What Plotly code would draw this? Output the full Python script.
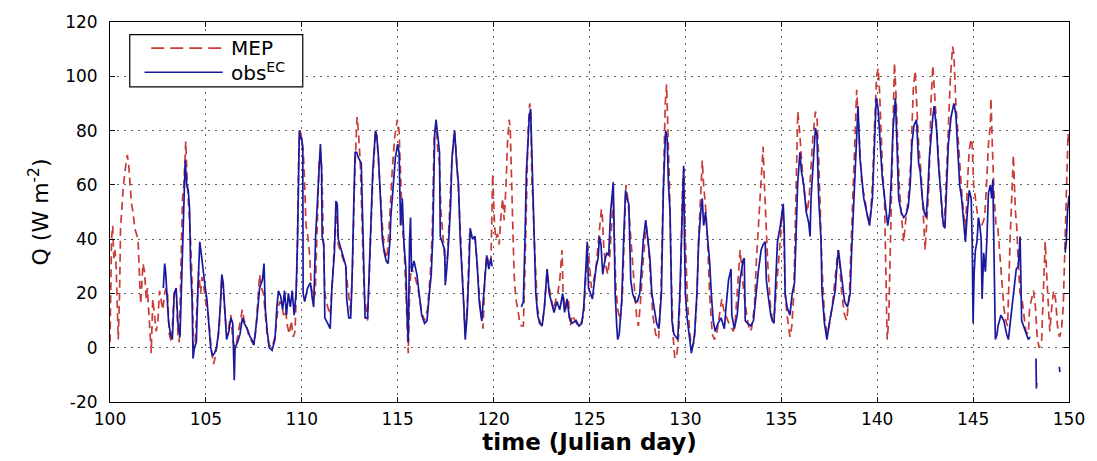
import plotly.graph_objects as go

# Sensible heat flux Q (W m^-2) against Julian day: MEP model vs eddy-covariance obs.
# Each entry is (Julian day, Q).
MEP_POINTS = [
    (100.0, 2), (100.08, 40), (100.14, 45), (100.2, 33), (100.26, 36), (100.32, 30),
    (100.43, 3), (100.5, 20), (100.55, 44), (100.69, 59), (100.8, 66), (100.9, 71),
    (100.97, 68), (101.03, 63), (101.12, 53), (101.2, 50), (101.29, 44), (101.46, 40),
    (101.55, 27), (101.6, 16), (101.72, 31), (101.8, 28), (101.89, 18), (101.95, 22),
    (102.05, 10), (102.15, -2), (102.23, 18), (102.33, 12), (102.41, 6), (102.5, 10),
    (102.58, 21), (102.65, 18), (102.75, 14), (102.85, 20), (102.92, 22), (103.0, 20),
    (103.09, 5), (103.2, 2), (103.26, 8), (103.35, 20), (103.44, 22), (103.55, 4),
    (103.61, 2), (103.7, 30), (103.78, 55), (103.85, 60), (103.95, 76), (104.02, 62),
    (104.12, 50), (104.2, 40), (104.3, 20),
    (104.35, 0), (104.45, 3), (104.55, 18), (104.62, 28), (104.72, 20), (104.8, 26),
    (104.9, 22), (105.0, 16), (105.1, 14), (105.2, 6), (105.3, -2), (105.4, -6),
    (105.5, -3), (105.6, 2), (105.7, 8), (105.83, 26), (105.92, 20), (106.0, 12),
    (106.1, 4), (106.2, 8), (106.3, 12), (106.4, 3), (106.5, 0), (106.6, 2),
    (106.75, 8), (106.9, 14), (107.0, 10), (107.12, 8), (107.25, 4), (107.4, 2),
    (107.5, 1), (107.6, 6), (107.7, 18), (107.8, 27), (107.9, 22), (108.0, 20),
    (108.1, 12), (108.2, 4), (108.3, 1), (108.45, 0), (108.6, 4), (108.75, 14),
    (108.85, 17), (108.95, 16), (109.05, 12), (109.15, 14), (109.25, 8), (109.35, 5),
    (109.45, 10), (109.55, 4), (109.65, 6), (109.75, 30), (109.85, 75), (109.92, 80),
    (110.0, 77), (110.08, 72), (110.15, 60), (110.22, 45), (110.3, 42), (110.4, 35),
    (110.5, 22), (110.6, 18), (110.7, 20), (110.8, 45), (110.9, 68), (110.97, 72),
    (111.05, 65), (111.12, 40), (111.2, 20), (111.35, 15), (111.48, 12), (111.6, 25),
    (111.72, 45), (111.8, 52), (111.9, 38), (112.0, 36), (112.15, 33), (112.28, 30),
    (112.4, 22), (112.55, 13), (112.65, 30), (112.75, 62), (112.88, 85), (112.95, 80),
    (113.05, 68), (113.15, 45), (113.25, 20), (113.43, 10), (113.55, 35), (113.7, 62),
    (113.85, 80), (113.92, 78), (114.0, 68), (114.1, 55), (114.2, 45), (114.3, 36),
    (114.45, 33), (114.6, 50), (114.72, 66), (114.85, 78), (114.98, 84), (115.07, 80),
    (115.16, 60), (115.25, 44), (115.33, 38), (115.42, 20), (115.55, -2), (115.62, 20),
    (115.7, 30), (115.8, 28), (115.95, 25), (116.1, 20), (116.25, 13), (116.4, 10),
    (116.55, 14), (116.7, 27), (116.8, 42), (116.9, 78), (117.0, 82), (117.1, 72),
    (117.18, 68), (117.25, 51), (117.35, 42), (117.48, 30), (117.6, 34), (117.72, 52),
    (117.82, 68), (117.95, 80), (118.05, 72), (118.15, 60), (118.25, 45), (118.4, 25),
    (118.52, 5), (118.62, 15), (118.75, 42), (118.9, 40), (119.03, 41), (119.15, 30),
    (119.3, 15), (119.45, 7), (119.55, 27), (119.65, 34), (119.8, 30), (119.86, 30),
    (119.95, 64), (120.05, 45), (120.12, 40), (120.21, 42), (120.29, 38), (120.38, 48),
    (120.47, 55), (120.55, 47), (120.65, 60), (120.72, 75), (120.81, 84), (120.87, 80),
    (120.92, 62), (121.0, 45), (121.07, 27), (121.16, 18), (121.24, 15), (121.35, 10),
    (121.45, 8), (121.55, 8), (121.64, 30), (121.72, 60), (121.8, 80), (121.88, 90),
    (121.93, 88), (122.0, 60), (122.05, 55), (122.12, 40), (122.19, 27), (122.28, 15),
    (122.4, 10), (122.53, 8), (122.65, 15), (122.79, 28), (122.88, 23), (123.0, 18),
    (123.14, 14), (123.25, 18), (123.35, 20), (123.45, 25), (123.57, 36), (123.62, 20),
    (123.75, 14), (123.9, 18), (124.0, 8), (124.1, 12), (124.25, 10), (124.4, 8),
    (124.55, 9), (124.7, 12), (124.8, 25), (124.9, 38), (124.95, 35), (125.1, 22),
    (125.2, 24), (125.35, 30), (125.5, 42), (125.62, 51), (125.66, 50), (125.75, 36),
    (125.86, 30), (125.95, 27), (126.05, 33), (126.15, 45), (126.24, 55), (126.3, 38),
    (126.38, 22), (126.47, 14), (126.6, 10), (126.72, 20), (126.8, 42), (126.9, 60),
    (127.0, 55), (127.1, 45), (127.2, 35), (127.3, 25), (127.45, 12), (127.55, 8),
    (127.65, 16), (127.8, 32), (127.95, 45), (128.05, 40), (128.15, 30), (128.3, 12),
    (128.45, 5), (128.6, 3), (128.72, 20), (128.85, 60), (128.95, 90), (129.02, 97),
    (129.1, 80), (129.17, 60), (129.25, 30), (129.35, 5), (129.45, -4), (129.55, -3),
    (129.65, 5), (129.75, 25), (129.85, 60), (129.92, 66), (130.0, 40), (130.1, 18),
    (130.2, 8), (130.31, 0), (130.45, 2), (130.6, 18), (130.7, 42), (130.8, 60),
    (130.88, 69), (130.95, 60), (131.05, 52), (131.15, 40), (131.26, 20), (131.4, 5),
    (131.52, 3), (131.65, 6), (131.78, 12), (131.9, 18), (132.0, 14), (132.1, 12),
    (132.21, 10), (132.35, 8), (132.5, 6), (132.6, 10), (132.72, 22), (132.85, 36),
    (132.95, 28), (133.05, 20), (133.2, 12), (133.35, 6), (133.45, 7), (133.6, 15),
    (133.7, 32), (133.84, 50), (133.95, 65), (134.05, 74), (134.12, 60), (134.2, 45),
    (134.3, 30), (134.45, 14), (134.55, 10), (134.65, 13), (134.8, 25), (134.95, 40),
    (135.05, 50), (135.12, 45), (135.2, 20), (135.3, 12), (135.45, 4), (135.55, 8),
    (135.65, 20), (135.75, 50), (135.86, 87), (135.95, 80), (136.05, 68), (136.15, 60),
    (136.25, 55), (136.35, 50), (136.45, 55), (136.55, 65), (136.65, 78), (136.78, 87),
    (136.86, 85), (136.95, 70), (137.05, 50), (137.12, 30), (137.25, 12), (137.38, 5),
    (137.5, 8), (137.65, 15), (137.8, 25), (137.95, 36), (138.05, 30), (138.15, 20),
    (138.3, 12), (138.41, 10), (138.55, 20), (138.68, 45), (138.8, 70), (138.93, 95),
    (139.0, 85), (139.1, 70), (139.2, 60), (139.35, 55), (139.5, 48), (139.62, 46),
    (139.75, 60), (139.88, 85), (139.97, 100), (140.05, 103), (140.12, 95), (140.2, 80),
    (140.28, 65), (140.38, 55), (140.45, 30), (140.52, 3), (140.6, 10), (140.68, 35),
    (140.75, 63), (140.85, 95), (140.9, 105), (140.97, 95), (141.05, 80), (141.15, 60),
    (141.25, 50), (141.38, 39), (141.5, 48), (141.62, 55), (141.75, 68), (141.88, 95),
    (141.98, 102), (142.07, 90), (142.16, 75), (142.28, 65), (142.4, 50), (142.5, 36),
    (142.6, 48), (142.7, 60), (142.8, 90), (142.9, 104), (142.98, 95), (143.1, 80),
    (143.2, 68), (143.3, 55), (143.4, 47), (143.5, 45), (143.6, 62), (143.7, 80),
    (143.82, 100), (143.93, 111), (144.0, 108), (144.1, 90), (144.2, 78), (144.3, 68),
    (144.4, 58), (144.5, 50), (144.6, 42), (144.7, 60), (144.8, 73), (144.9, 77),
    (144.95, 75), (145.03, 60), (145.12, 55), (145.21, 50), (145.3, 45), (145.4, 44),
    (145.5, 46), (145.6, 48), (145.7, 60), (145.8, 75), (145.9, 82), (145.93, 92),
    (146.0, 75), (146.1, 55), (146.2, 45), (146.28, 45), (146.41, 33), (146.5, 24),
    (146.6, 15), (146.7, 10), (146.8, 8), (146.93, 40), (147.02, 60), (147.1, 71),
    (147.2, 51), (147.28, 44), (147.36, 30), (147.45, 20), (147.55, 18), (147.65, 12),
    (147.75, 6), (147.88, 5), (147.95, 15), (148.05, 18), (148.15, 21), (148.25, 15),
    (148.35, 3), (148.45, 0), (148.57, 2), (148.66, 20), (148.76, 39), (148.85, 25),
    (148.93, 12), (149.0, 6), (149.1, 15), (149.2, 21), (149.3, 18), (149.4, 8),
    (149.5, 4), (149.6, 6), (149.7, 15), (149.8, 45), (149.88, 60), (149.95, 79),
    (150.0, 75),
]

# None marks a break in the observed record.
OBS_POINTS = [
    (102.78, 22), (102.85, 31), (102.9, 28), (102.95, 20), (103.05, 10), (103.15, 5),
    (103.25, 3), (103.35, 20), (103.45, 22), (103.55, 8), (103.65, 4), (103.75, 28),
    (103.85, 55), (103.92, 69), (104.0, 60), (104.08, 58), (104.15, 51), (104.2, 30),
    (104.28, 18), (104.33, -4), (104.4, 0), (104.5, 2), (104.6, 25), (104.68, 39),
    (104.75, 35), (104.82, 30), (104.9, 26), (104.97, 22), (105.05, 18), (105.15, 10),
    (105.25, 0), (105.35, -3), (105.45, -2), (105.55, 0), (105.65, 5), (105.75, 15),
    (105.83, 27), (105.9, 24), (106.0, 14), (106.08, 3), (106.2, 6), (106.3, 11),
    (106.4, 9), (106.48, -12), (106.52, 0), (106.65, 2), (106.78, 5), (106.9, 11),
    (107.0, 9), (107.15, 7), (107.3, 4), (107.4, 3), (107.5, 1), (107.65, 10),
    (107.8, 22), (107.95, 25), (108.03, 31), (108.1, 14), (108.2, 6), (108.3, 0),
    (108.45, -1), (108.6, 3), (108.7, 15), (108.78, 21), (108.9, 19), (109.0, 14),
    (109.1, 21), (109.2, 12), (109.3, 20), (109.4, 15), (109.5, 21), (109.6, 12),
    (109.7, 20), (109.78, 40), (109.87, 80), (109.93, 77), (110.0, 77), (110.05, 73),
    (110.07, 20), (110.15, 17), (110.3, 22), (110.45, 24), (110.55, 18), (110.62, 15),
    (110.72, 41), (110.85, 60), (110.97, 75), (111.03, 66), (111.06, 41), (111.15, 38),
    (111.2, 11), (111.35, 9), (111.48, 7), (111.57, 22), (111.7, 35), (111.78, 54),
    (111.85, 53), (111.9, 40), (112.05, 36), (112.2, 33), (112.3, 30), (112.34, 18),
    (112.45, 11), (112.55, 11), (112.62, 25), (112.7, 50), (112.78, 72), (112.86, 72),
    (112.95, 70), (113.1, 68), (113.2, 36), (113.3, 11), (113.43, 11), (113.55, 39),
    (113.7, 65), (113.84, 80), (113.92, 77), (114.0, 70), (114.1, 52), (114.2, 40),
    (114.3, 35), (114.4, 32), (114.5, 31), (114.6, 40), (114.64, 48), (114.75, 60),
    (114.88, 70), (115.0, 75), (115.07, 72), (115.15, 45), (115.24, 55), (115.33, 38),
    (115.42, 30), (115.5, 10), (115.55, 2), (115.62, 40), (115.67, 48), (115.72, 28),
    (115.85, 32), (116.0, 27), (116.1, 20), (116.25, 12), (116.4, 9), (116.53, 10),
    (116.65, 20), (116.75, 27), (116.83, 41), (116.93, 79), (117.0, 84), (117.1, 78),
    (117.18, 72), (117.22, 41), (117.35, 38), (117.45, 36), (117.48, 23), (117.57, 30),
    (117.68, 42), (117.76, 53), (117.83, 70), (117.97, 80), (118.07, 68), (118.17, 60),
    (118.26, 40), (118.35, 30), (118.45, 15), (118.52, 3), (118.62, 12), (118.72, 30),
    (118.78, 44), (118.9, 40), (119.03, 41), (119.15, 30), (119.25, 17), (119.38, 10),
    (119.5, 20), (119.55, 27), (119.64, 34), (119.75, 29), (119.86, 33), (119.92, 30),
    (119.95, None),
    (121.45, 15), (121.55, 17), (121.64, 41), (121.71, 65), (121.78, 74), (121.86, 85),
    (121.93, 88), (122.0, 72), (122.05, 65), (122.1, 45), (122.2, 20), (122.3, 12),
    (122.4, 9), (122.53, 8), (122.65, 15), (122.79, 29), (122.9, 20), (123.05, 16),
    (123.15, 13), (123.3, 17), (123.45, 14), (123.6, 20), (123.7, 13), (123.83, 18),
    (123.95, 11), (124.1, 9), (124.3, 10), (124.45, 8), (124.6, 9), (124.7, 15),
    (124.8, 30), (124.88, 39), (124.95, 22), (125.05, 20), (125.15, 18), (125.25, 24),
    (125.35, 30), (125.45, 33), (125.52, 41), (125.6, 38), (125.69, 27), (125.8, 32),
    (125.9, 35), (126.0, 34), (126.1, 50), (126.24, 61), (126.29, 45), (126.34, 20),
    (126.42, 8), (126.47, 3), (126.55, 5), (126.68, 17), (126.78, 40), (126.88, 58),
    (126.95, 55), (127.05, 53), (127.15, 25), (127.25, 20), (127.4, 17), (127.5, 17),
    (127.62, 20), (127.7, 28), (127.8, 39), (127.93, 47), (128.05, 39), (128.15, 33),
    (128.25, 20), (128.36, 15), (128.5, 9), (128.62, 7), (128.75, 20), (128.85, 58),
    (128.97, 80), (129.05, 77), (129.12, 60), (129.2, 50), (129.3, 10), (129.4, 5),
    (129.5, 4), (129.6, 3), (129.71, 20), (129.78, 35), (129.84, 55), (129.91, 67),
    (129.95, 40), (130.0, 20), (130.09, 11), (130.2, 5), (130.31, -2), (130.4, 1),
    (130.48, 5), (130.6, 20), (130.69, 39), (130.8, 50), (130.88, 55), (130.95, 45),
    (131.05, 50), (131.15, 41), (131.26, 32), (131.35, 20), (131.45, 10), (131.55, 6),
    (131.7, 9), (131.86, 11), (132.03, 7), (132.12, 15), (132.25, 25), (132.38, 29),
    (132.42, 12), (132.55, 7), (132.7, 12), (132.85, 25), (133.0, 32), (133.07, 33),
    (133.12, 10), (133.24, 9), (133.41, 8), (133.55, 10), (133.67, 20), (133.8, 28),
    (133.95, 36), (134.05, 38), (134.16, 39), (134.22, 25), (134.3, 20), (134.45, 12),
    (134.53, 10), (134.62, 9), (134.7, 23), (134.8, 39), (134.95, 45), (135.05, 50),
    (135.1, 53), (135.15, 45), (135.2, 20), (135.3, 15), (135.45, 12), (135.57, 20),
    (135.69, 24), (135.76, 39), (135.85, 60), (135.97, 72), (136.05, 65), (136.17, 60),
    (136.3, 50), (136.43, 46), (136.5, 41), (136.55, 55), (136.68, 70), (136.78, 81),
    (136.86, 78), (136.95, 55), (137.07, 40), (137.12, 21), (137.25, 9), (137.38, 3),
    (137.5, 9), (137.64, 15), (137.81, 21), (137.9, 30), (137.98, 36), (138.08, 30),
    (138.16, 25), (138.3, 17), (138.45, 15), (138.59, 20), (138.67, 36), (138.78, 55),
    (138.88, 75), (139.0, 89), (139.1, 70), (139.2, 62), (139.3, 55), (139.45, 50),
    (139.6, 45), (139.75, 55), (139.85, 75), (139.95, 92), (140.05, 88), (140.1, 80),
    (140.2, 70), (140.26, 63), (140.34, 58), (140.45, 50), (140.55, 45), (140.65, 50),
    (140.72, 60), (140.82, 80), (140.95, 92), (141.03, 75), (141.12, 55), (141.25, 50),
    (141.38, 48), (141.5, 49), (141.62, 52), (141.72, 60), (141.81, 75), (141.92, 82),
    (142.05, 84), (142.16, 68), (142.24, 65), (142.35, 55), (142.45, 50), (142.55, 48),
    (142.62, 55), (142.72, 70), (142.8, 78), (142.9, 85), (142.97, 89), (143.1, 80),
    (143.19, 68), (143.28, 60), (143.36, 52), (143.45, 45), (143.53, 44), (143.62, 63),
    (143.71, 75), (143.85, 85), (144.0, 90), (144.1, 86), (144.2, 75), (144.3, 60),
    (144.4, 55), (144.5, 48), (144.6, 39), (144.7, 50), (144.8, 58), (144.9, 55),
    (144.95, 40), (145.0, 9), (145.05, 27), (145.12, 36), (145.2, 39), (145.28, 48),
    (145.35, 45), (145.42, 40), (145.47, 18), (145.55, 35), (145.64, 28), (145.72, 40),
    (145.8, 57), (145.9, 60), (145.97, 55), (146.03, 62), (146.1, 27), (146.16, 3),
    (146.25, 5), (146.3, 8), (146.45, 12), (146.6, 10), (146.75, 5), (146.84, 3),
    (146.95, 10), (147.1, 20), (147.25, 29), (147.36, 30), (147.45, 41), (147.53, 10),
    (147.62, 8), (147.75, 5), (147.88, 3), (147.97, 4),
    (148.0, None),
    (148.28, -4), (148.3, -15), (148.32, -13),
    (148.4, None),
    (149.5, -7), (149.52, -9),
    (149.6, None),
    (149.8, 35), (149.86, 39), (149.92, 50), (150.0, 56),
]

mep_day, mep_q = zip(*MEP_POINTS)
obs_day, obs_q = zip(*OBS_POINTS)

X_TICKS = list(range(100, 151, 5))
Y_TICKS = list(range(-20, 121, 20))
SERIES_NAMES = ["MEP", "obs<sup>EC</sup>"]

MEP_COLOR = "rgb(200,60,55)"
OBS_COLOR = "rgb(25,25,160)"
FONT = "DejaVu Sans, Arial, sans-serif"

fig = go.Figure()
fig.add_trace(go.Scatter(
    x=mep_day, y=mep_q, mode="lines", name=SERIES_NAMES[0], showlegend=False,
    line=dict(color=MEP_COLOR, width=1.7, dash="8px,5px"),
))
fig.add_trace(go.Scatter(
    x=obs_day, y=obs_q, mode="lines", name=SERIES_NAMES[1], showlegend=False,
    line=dict(color=OBS_COLOR, width=1.7), connectgaps=False,
))

axis_common = dict(
    showline=True, linecolor="black", linewidth=1, mirror="ticks",
    ticks="inside", ticklen=5, tickcolor="black",
    showgrid=True, gridcolor="rgba(70,70,70,0.85)", gridwidth=1, griddash="2px,5px",
    zeroline=False, tickfont=dict(family=FONT, size=17, color="black"),
)

fig.update_xaxes(
    range=[100, 150], tickvals=X_TICKS, ticktext=[str(t) for t in X_TICKS],
    ticklabelstandoff=2,
    title=dict(text="time (Julian day)",
               font=dict(family=FONT, size=23, color="black", weight="bold"),
               standoff=3),
    **axis_common,
)
fig.update_yaxes(
    range=[-20, 120], tickvals=Y_TICKS, ticktext=[str(t) for t in Y_TICKS],
    ticklabelstandoff=8,
    title=dict(text="Q (W m<sup>-2</sup>)",
               font=dict(family=FONT, size=22, color="black"),
               standoff=10),
    **axis_common,
)

# Boxed key in the upper-left corner of the axes.
key_box = dict(x0=0.0206, x1=0.201, y0=0.8295, y1=0.967)
key_rows = [0.9313, 0.8677]
fig.add_shape(type="rect", xref="paper", yref="paper", **key_box,
              line=dict(color="black", width=1.2), fillcolor="white", layer="above")
fig.add_shape(type="line", xref="paper", yref="paper",
              x0=0.043, x1=0.1175, y0=key_rows[0], y1=key_rows[0],
              line=dict(color=MEP_COLOR, width=1.7, dash="13px,6px"), layer="above")
fig.add_shape(type="line", xref="paper", yref="paper",
              x0=0.036, x1=0.1175, y0=key_rows[1], y1=key_rows[1],
              line=dict(color=OBS_COLOR, width=1.5), layer="above")
for name, yrow in zip(SERIES_NAMES, key_rows):
    fig.add_annotation(
        xref="paper", yref="paper", x=0.1245, y=yrow, xanchor="left", yanchor="middle",
        text=name, showarrow=False, font=dict(family=FONT, size=20, color="black"),
    )

fig.update_layout(
    width=1097, height=461,
    margin=dict(l=110, r=17, t=15, b=53),
    paper_bgcolor="white", plot_bgcolor="white",
    showlegend=False,
)

fig.write_html("out.html")
